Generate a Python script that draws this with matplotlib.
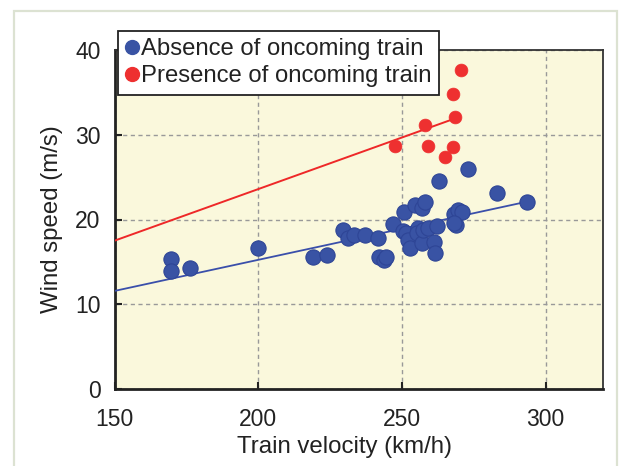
import matplotlib
matplotlib.use("Agg")
import matplotlib.pyplot as plt
from matplotlib.patches import Rectangle
from matplotlib.lines import Line2D
import numpy as np

plt.rcParams['font.family'] = ['Liberation Sans', 'DejaVu Sans']

# Data
absent_velocity = [169.5, 169.8, 176.4, 200.1, 219.0, 223.9, 229.4, 231.3, 233.2, 237.2,
                   241.6, 242.0, 243.7, 244.5, 246.8, 250.7, 250.3, 251.6, 252.3, 253.0,
                   254.7, 255.5, 255.1, 256.9, 258.0, 256.9, 257.4, 259.2, 261.3, 261.5,
                   262.4, 262.9, 268.1, 268.8, 269.5, 270.9, 268.1, 272.9, 283.2, 293.5]
absent_wind = [15.3, 13.9, 14.25, 16.6, 15.6, 15.8, 18.8, 17.8, 18.2, 18.2,
               17.8, 15.6, 15.2, 15.6, 19.5, 20.9, 18.6, 18.4, 17.6, 16.6,
               21.7, 19.0, 18.4, 21.3, 22.1, 17.2, 18.8, 19.0, 17.4, 16.0,
               19.2, 24.5, 20.7, 19.4, 21.1, 20.9, 19.6, 25.9, 23.1, 22.1]

present_velocity = [270.5, 267.9, 268.4, 258.1, 247.5, 259.1, 267.9, 265.1]
present_wind = [37.6, 34.8, 32.1, 31.1, 28.7, 28.7, 28.6, 27.4]

# Regression lines (endpoints)
absent_line_x = [150, 293.5]
absent_line_y = [11.57, 22.1]
present_line_x = [150, 267.5]
present_line_y = [17.5, 31.8]

xticks = [150, 200, 250, 300]
yticks = [0, 10, 20, 30, 40]

blue = '#3953A4'
blue_edge = '#2E4596'
red = '#EE3030'
txt = '#222222'

fig = plt.figure(figsize=(6.19, 4.66), dpi=100)

# light outer frame
fig.patches.append(Rectangle((14/619, -0.05), (617-14)/619, 1.05 - 11/466,
                             transform=fig.transFigure, fill=False,
                             edgecolor='#DCE2D2', linewidth=1.6, zorder=0))

ax = fig.add_axes([114.5/619, 1-389/466, (603-114.5)/619, (389-50)/466])
ax.set_facecolor('#FAF8DC')

ax.plot(absent_line_x, absent_line_y, color='#3A4FAA', lw=1.3, zorder=3)
ax.plot(present_line_x, present_line_y, color='#EE2828', lw=1.4, zorder=3)

ax.scatter(absent_velocity, absent_wind, s=120, color=blue, edgecolors=blue_edge,
           linewidths=0.8, zorder=4)
ax.scatter(present_velocity, present_wind, s=85, color=red, edgecolors=red,
           linewidths=0.5, zorder=5)

ax.set_xlim(150, 320)
ax.set_ylim(0, 40)
ax.set_xticks(xticks)
ax.set_yticks(yticks)
ax.grid(True, color='#999999', linestyle=(0, (3, 2.5)), linewidth=1.0, zorder=1)
ax.set_axisbelow(True)

ax.tick_params(direction='in', length=5, width=1.5, labelsize=16.5, colors=txt)
ax.tick_params(axis='x', pad=14)
ax.tick_params(axis='y', pad=10)
for s in ['left', 'bottom']:
    ax.spines[s].set_linewidth(2.0)
    ax.spines[s].set_color(txt)
for s in ['top', 'right']:
    ax.spines[s].set_linewidth(1.3)
    ax.spines[s].set_color('#333333')

ax.set_xlabel('Train velocity (km/h)', fontsize=17.3, color=txt)
ax.xaxis.set_label_coords(0.471, -0.14)
ax.set_ylabel('Wind speed (m/s)', fontsize=17.3, color=txt)
ax.yaxis.set_label_coords(-0.105, 0.5)

handles = [Line2D([], [], marker='o', linestyle='none', color=blue, markersize=10),
           Line2D([], [], marker='o', linestyle='none', color=red, markersize=10)]
leg = fig.legend(handles, ['Absence of oncoming train', 'Presence of oncoming train'],
                 loc='upper left', bbox_to_anchor=(118/619, 1-31/466),
                 bbox_transform=fig.transFigure, fontsize=17.2, frameon=True,
                 fancybox=False, framealpha=1, edgecolor=txt,
                 borderpad=0.3, handlelength=0.55, handletextpad=0.12,
                 labelspacing=0.22, borderaxespad=0, markerscale=1.0)
leg.get_frame().set_linewidth(1.3)
for t in leg.get_texts():
    t.set_color(txt)

fig.savefig('out.png', dpi=100)
